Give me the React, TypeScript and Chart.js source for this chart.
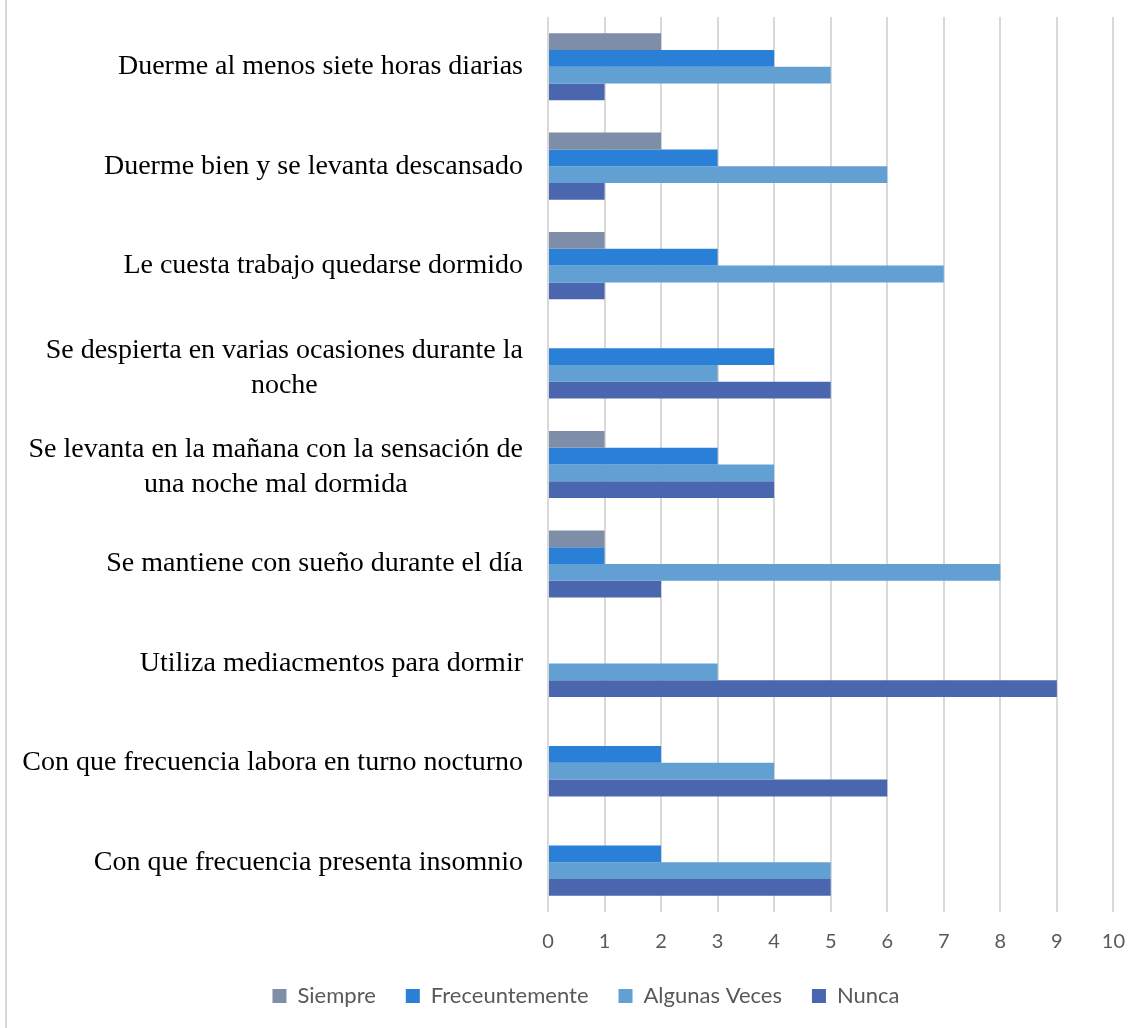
import React, { useEffect, useRef } from "react";
import { Chart, registerables } from "chart.js";

Chart.register(...registerables);

const categories: (string | string[])[] = [
  "Duerme al menos siete horas diarias",
  "Duerme bien y se levanta descansado",
  "Le cuesta trabajo quedarse dormido",
  ["Se despierta en varias ocasiones durante la", "noche"],
  ["Se levanta en la mañana con la sensación de", "una noche mal dormida"],
  "Se mantiene con sueño durante el día",
  "Utiliza mediacmentos para dormir",
  "Con que frecuencia labora en turno nocturno",
  "Con que frecuencia presenta insomnio",
];

const seriesNames = ["Siempre", "Freceuntemente", "Algunas Veces", "Nunca"];
const siempre = [2, 2, 1, 0, 1, 1, 0, 0, 0];
const freceuntemente = [4, 3, 3, 4, 3, 1, 0, 2, 2];
const algunasVeces = [5, 6, 7, 3, 4, 8, 3, 4, 5];
const nunca = [1, 1, 1, 5, 4, 2, 9, 6, 5];
const seriesColors = ["#7f8ea8", "#2a7fd6", "#629fd2", "#4a66ae"];
const xTicks = [0, 1, 2, 3, 4, 5, 6, 7, 8, 9, 10];

const LABEL_RIGHT = 523;
const LABEL_FONT = '28px "Liberation Serif", "Times New Roman", serif';
const LINE_H = 35;

const categoryLabelPlugin = {
  id: "categoryLabels",
  afterDraw(chart: any) {
    const ctx = chart.ctx;
    const yScale = chart.scales.y;
    ctx.save();
    ctx.font = LABEL_FONT;
    ctx.fillStyle = "#000000";
    ctx.textBaseline = "middle";
    categories.forEach((lab, i) => {
      const y = yScale.getPixelForValue(i);
      if (Array.isArray(lab)) {
        const widest = Math.max(...lab.map((l) => ctx.measureText(l).width));
        const cx = LABEL_RIGHT - widest / 2;
        ctx.textAlign = "center";
        const start = y - ((lab.length - 1) * LINE_H) / 2 + 3;
        lab.forEach((line, k) => ctx.fillText(line, cx, start + k * LINE_H));
      } else {
        ctx.textAlign = "right";
        ctx.fillText(lab, LABEL_RIGHT, y);
      }
    });
    ctx.restore();
  },
};

export default function App() {
  const ref = useRef<HTMLCanvasElement>(null);
  useEffect(() => {
    const values = [siempre, freceuntemente, algunasVeces, nunca];
    const chart = new Chart(ref.current!, {
      type: "bar",
      data: {
        labels: categories.map((c) => (Array.isArray(c) ? c.join(" ") : c)),
        datasets: seriesNames.map((name, i) => ({
          label: name,
          data: values[i],
          backgroundColor: seriesColors[i],
          borderWidth: 0,
          categoryPercentage: 0.675,
          barPercentage: 1,
        })),
      },
      options: {
        indexAxis: "y",
        animation: false,
        responsive: false,
        maintainAspectRatio: false,
        layout: { padding: { top: 17, right: 28, bottom: 11, left: 57 } },
        plugins: {
          tooltip: { enabled: false },
          legend: {
            position: "bottom",
            labels: {
              boxWidth: 14,
              boxHeight: 14,
              padding: 30,
              color: "#595959",
              font: { family: "Lato", size: 22 },
            },
          },
        },
        scales: {
          x: {
            min: 0,
            max: 10,
            afterBuildTicks: (s: any) => {
              s.ticks = xTicks.map((v) => ({ value: v }));
            },
            afterFit: (s: any) => {
              s.height = 43;
            },
            grid: { color: "#d9d9d9", lineWidth: 2, drawTicks: false },
            border: { display: false },
            ticks: {
              padding: 18,
              color: "#595959",
              font: { family: "Lato", size: 20 },
            },
          },
          y: {
            grid: { display: false },
            border: { display: false },
            ticks: { display: false },
            afterFit: (s: any) => {
              s.width = 548 - 57;
            },
          },
        },
      },
      plugins: [categoryLabelPlugin],
    });
    return () => chart.destroy();
  }, []);
  return (
    <div style={{ position: "absolute", left: 0, top: 0, width: 1143, height: 1028, background: "#fff" }}>
      <div style={{ position: "absolute", left: 5, top: 0, width: 2, height: 1028, background: "#d9d9d9" }} />
      <canvas ref={ref} width={1143} height={1028} style={{ position: "absolute", left: 0, top: 0 }} />
    </div>
  );
}
